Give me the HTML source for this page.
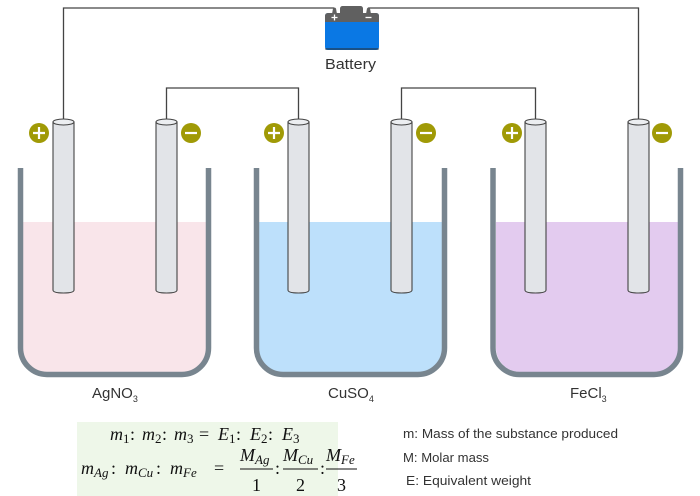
<!DOCTYPE html>
<html>
<head>
<meta charset="utf-8">
<style>
html,body{margin:0;padding:0;background:#fff;}
svg{display:block;}
</style>
</head>
<body>
<svg width="700" height="496" viewBox="0 0 700 496" xmlns="http://www.w3.org/2000/svg">
  <!-- formula background -->
  <rect x="77" y="422" width="261" height="74" fill="#eef7e9"/>

  <!-- wires -->
  <g fill="none" stroke="#444" stroke-width="1.3">
    <polyline points="63.5,121 63.5,8 334,8"/>
    <polyline points="368,8 638.5,8 638.5,121"/>
    <polyline points="166.5,121 166.5,88 298.5,88 298.5,121"/>
    <polyline points="401.5,121 401.5,88 535.5,88 535.5,121"/>
  </g>

  <!-- battery -->
  <g>
    <rect x="340" y="6" width="23" height="10" rx="2.5" fill="#606060"/>
    <path d="M332 14 L333 8.5 Q334.5 6.5 336 8.5 L337 14 Z" fill="#606060"/>
    <path d="M366 14 L367 8.5 Q368.5 6.5 370 8.5 L371 14 Z" fill="#606060"/>
    <rect x="325" y="13" width="54" height="37" rx="3" fill="#0a78e4"/>
    <path d="M325 22 V16 Q325 13 328 13 H376 Q379 13 379 16 V22 Z" fill="#606060"/>
    <rect x="325" y="48" width="54" height="2" rx="1" fill="#2a2a2a" opacity="0.5"/>
    <path d="M331.5 17.5 H337.5 M334.5 14.5 V20.5" stroke="#fff" stroke-width="1.3"/>
    <path d="M365.5 17.5 H371.5" stroke="#fff" stroke-width="1.3"/>
    <text x="350.5" y="69" font-family="Liberation Sans, DejaVu Sans, sans-serif" font-size="15" fill="#333" text-anchor="middle" textLength="51" lengthAdjust="spacingAndGlyphs">Battery</text>
  </g>

  <!-- liquids -->
  <path d="M23 222 V348 A24 24 0 0 0 47 372 H182 A24 24 0 0 0 206 348 V222 Z" fill="#f9e5ea"/>
  <path d="M259 222 V348 A24 24 0 0 0 283 372 H418 A24 24 0 0 0 442 348 V222 Z" fill="#bde0fb"/>
  <path d="M496 222 V348 A24 24 0 0 0 520 372 H654 A24 24 0 0 0 678 348 V222 Z" fill="#e3cbef"/>

  <!-- beakers -->
  <g fill="none" stroke="#78858f" stroke-width="5.5">
    <path d="M20.5 168 V348 A26.5 26.5 0 0 0 47 374.5 H182 A26.5 26.5 0 0 0 208.5 348 V168"/>
    <path d="M256.5 168 V348 A26.5 26.5 0 0 0 283 374.5 H418 A26.5 26.5 0 0 0 444.5 348 V168"/>
    <path d="M493 168 V348 A26.5 26.5 0 0 0 519.5 374.5 H654 A26.5 26.5 0 0 0 680.5 348 V168"/>
  </g>

  <!-- electrodes -->
  <defs>
    <g id="el">
      <path d="M0 0 V168 Q0 171 10.5 171 Q21 171 21 168 V0 Z" fill="#e2e4e8" stroke="#444" stroke-width="1.1"/>
      <ellipse cx="10.5" cy="0" rx="10.5" ry="3" fill="#eceef1" stroke="#444" stroke-width="1.1"/>
    </g>
  </defs>
  <use href="#el" x="53" y="122"/>
  <use href="#el" x="156" y="122"/>
  <use href="#el" x="288" y="122"/>
  <use href="#el" x="391" y="122"/>
  <use href="#el" x="525" y="122"/>
  <use href="#el" x="628" y="122"/>

  <!-- signs -->
  <g fill="#a09a06">
    <circle cx="39" cy="133" r="10"/>
    <circle cx="191" cy="133" r="10"/>
    <circle cx="274" cy="133" r="10"/>
    <circle cx="426" cy="133" r="10"/>
    <circle cx="512" cy="133" r="10"/>
    <circle cx="662" cy="133" r="10"/>
  </g>
  <g stroke="#fff" stroke-width="2.2">
    <path d="M33 133 H45 M39 127 V139"/>
    <path d="M185 133 H197"/>
    <path d="M268 133 H280 M274 127 V139"/>
    <path d="M420 133 H432"/>
    <path d="M506 133 H518 M512 127 V139"/>
    <path d="M656 133 H668"/>
  </g>

  <!-- solution labels -->
  <g font-family="Liberation Sans, DejaVu Sans, sans-serif" font-size="15" fill="#333">
    <text x="92" y="398">AgNO<tspan font-size="9" dy="4">3</tspan></text>
    <text x="328" y="398">CuSO<tspan font-size="9" dy="4">4</tspan></text>
    <text x="570" y="398">FeCl<tspan font-size="9" dy="4">3</tspan></text>
  </g>

  <!-- formula line 1 -->
  <g font-family="Liberation Serif, DejaVu Serif, serif" fill="#111" font-size="18">
    <text x="110" y="440" font-style="italic">m</text>
    <text x="123" y="443" font-size="13">1</text>
    <text x="130" y="440">:</text>
    <text x="142" y="440" font-style="italic">m</text>
    <text x="155" y="443" font-size="13">2</text>
    <text x="162" y="440">:</text>
    <text x="174" y="440" font-style="italic">m</text>
    <text x="187" y="443" font-size="13">3</text>
    <text x="199" y="440">=</text>
    <text x="218" y="440" font-style="italic">E</text>
    <text x="229" y="443" font-size="13">1</text>
    <text x="236" y="440">:</text>
    <text x="250" y="440" font-style="italic">E</text>
    <text x="261" y="443" font-size="13">2</text>
    <text x="268" y="440">:</text>
    <text x="282" y="440" font-style="italic">E</text>
    <text x="293" y="443" font-size="13">3</text>
  </g>

  <!-- formula line 2 -->
  <g font-family="Liberation Serif, DejaVu Serif, serif" fill="#111" font-size="18" font-style="italic">
    <text x="81" y="474">m</text>
    <text x="94" y="477" font-size="13">Ag</text>
    <text x="111" y="474" font-style="normal">:</text>
    <text x="125" y="474">m</text>
    <text x="138" y="477" font-size="13">Cu</text>
    <text x="156" y="474" font-style="normal">:</text>
    <text x="170" y="474">m</text>
    <text x="183" y="477" font-size="13">Fe</text>
    <text x="214" y="474" font-style="normal">=</text>

    <!-- fractions -->
    <text x="240" y="461">M</text>
    <text x="255" y="464" font-size="13">Ag</text>
    <text x="252" y="491" font-style="normal">1</text>
    <line x1="240" y1="469" x2="273" y2="469" stroke="#111" stroke-width="0.9"/>
    <text x="275" y="474" font-style="normal">:</text>

    <text x="283" y="461">M</text>
    <text x="298" y="464" font-size="13">Cu</text>
    <text x="296" y="491" font-style="normal">2</text>
    <line x1="283" y1="469" x2="318" y2="469" stroke="#111" stroke-width="0.9"/>
    <text x="320" y="474" font-style="normal">:</text>

    <text x="326" y="461">M</text>
    <text x="341" y="464" font-size="13">Fe</text>
    <text x="337" y="491" font-style="normal">3</text>
    <line x1="326" y1="469" x2="357" y2="469" stroke="#111" stroke-width="0.9"/>
  </g>

  <!-- legend -->
  <g font-family="Liberation Sans, DejaVu Sans, sans-serif" font-size="13" fill="#333">
    <text x="403" y="438" textLength="215" lengthAdjust="spacingAndGlyphs">m: Mass of the substance produced</text>
    <text x="403" y="462" textLength="86" lengthAdjust="spacingAndGlyphs">M: Molar mass</text>
    <text x="406" y="485" textLength="125" lengthAdjust="spacingAndGlyphs">E: Equivalent weight</text>
  </g>
</svg>
</body>
</html>
